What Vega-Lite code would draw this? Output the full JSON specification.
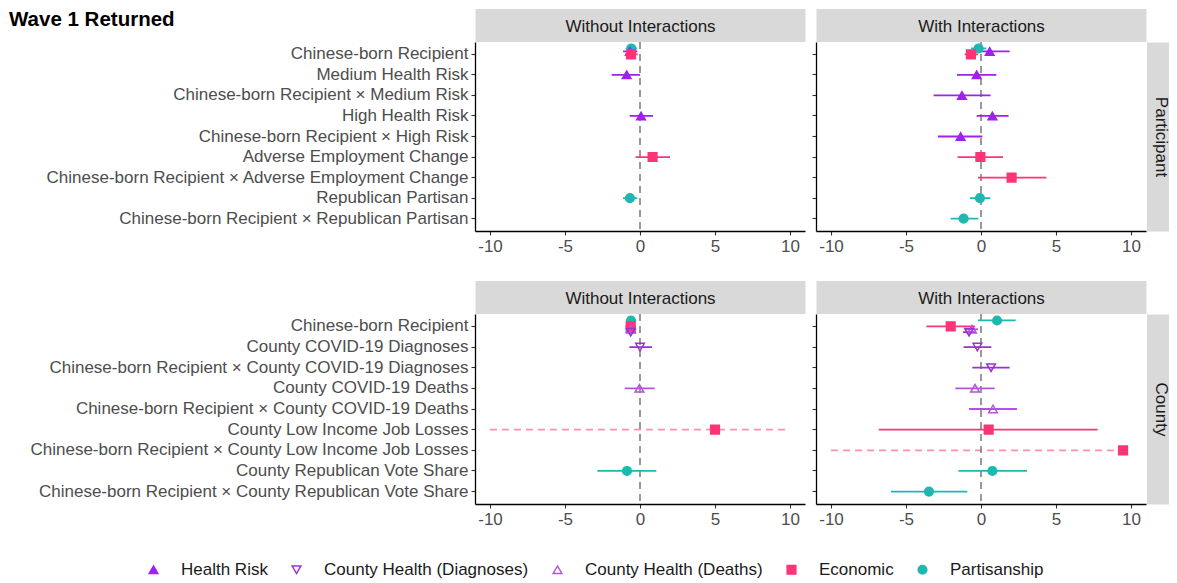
{
  "$schema": "https://vega.github.io/schema/vega-lite/v6.json",
  "padding": {"left": 9, "top": 9, "right": 0, "bottom": 0},
  "title": {"text": "Wave 1 Returned", "anchor": "start", "fontSize": 20.5, "fontWeight": "bold", "color": "#000000", "font": "Liberation Sans", "offset": -29, "baseline": "alphabetic", "dx": -21},
  "datasets": {
    "coef": [
      {"level": "Participant", "spec": "Without Interactions", "term": "Chinese-born Recipient", "model": "Partisanship", "est": -0.58, "lo": -0.95, "hi": -0.2, "ci": "within"},
      {"level": "Participant", "spec": "Without Interactions", "term": "Chinese-born Recipient", "model": "Health Risk", "est": -0.67, "lo": -1.13, "hi": -0.18, "ci": "within"},
      {"level": "Participant", "spec": "Without Interactions", "term": "Chinese-born Recipient", "model": "Economic", "est": -0.6, "lo": -0.98, "hi": -0.15, "ci": "within"},
      {"level": "Participant", "spec": "Without Interactions", "term": "Medium Health Risk", "model": "Health Risk", "est": -0.89, "lo": -1.89, "hi": 0.0, "ci": "within"},
      {"level": "Participant", "spec": "Without Interactions", "term": "High Health Risk", "model": "Health Risk", "est": 0.07, "lo": -0.69, "hi": 0.87, "ci": "within"},
      {"level": "Participant", "spec": "Without Interactions", "term": "Adverse Employment Change", "model": "Economic", "est": 0.84, "lo": -0.29, "hi": 2.0, "ci": "within"},
      {"level": "Participant", "spec": "Without Interactions", "term": "Republican Partisan", "model": "Partisanship", "est": -0.67, "lo": -1.13, "hi": -0.18, "ci": "within"},

      {"level": "Participant", "spec": "With Interactions", "term": "Chinese-born Recipient", "model": "Partisanship", "est": -0.16, "lo": -0.67, "hi": 0.36, "ci": "within"},
      {"level": "Participant", "spec": "With Interactions", "term": "Chinese-born Recipient", "model": "Health Risk", "est": 0.58, "lo": -0.5, "hi": 1.91, "ci": "within"},
      {"level": "Participant", "spec": "With Interactions", "term": "Chinese-born Recipient", "model": "Economic", "est": -0.67, "lo": -1.09, "hi": -0.2, "ci": "within"},
      {"level": "Participant", "spec": "With Interactions", "term": "Medium Health Risk", "model": "Health Risk", "est": -0.29, "lo": -1.6, "hi": 1.02, "ci": "within"},
      {"level": "Participant", "spec": "With Interactions", "term": "Chinese-born Recipient × Medium Risk", "model": "Health Risk", "est": -1.27, "lo": -3.16, "hi": 0.64, "ci": "within"},
      {"level": "Participant", "spec": "With Interactions", "term": "High Health Risk", "model": "Health Risk", "est": 0.76, "lo": -0.29, "hi": 1.84, "ci": "within"},
      {"level": "Participant", "spec": "With Interactions", "term": "Chinese-born Recipient × High Risk", "model": "Health Risk", "est": -1.36, "lo": -2.87, "hi": 0.09, "ci": "within"},
      {"level": "Participant", "spec": "With Interactions", "term": "Adverse Employment Change", "model": "Economic", "est": -0.04, "lo": -1.56, "hi": 1.47, "ci": "within"},
      {"level": "Participant", "spec": "With Interactions", "term": "Chinese-born Recipient × Adverse Employment Change", "model": "Economic", "est": 2.04, "lo": -0.2, "hi": 4.36, "ci": "within"},
      {"level": "Participant", "spec": "With Interactions", "term": "Republican Partisan", "model": "Partisanship", "est": -0.07, "lo": -0.73, "hi": 0.62, "ci": "within"},
      {"level": "Participant", "spec": "With Interactions", "term": "Chinese-born Recipient × Republican Partisan", "model": "Partisanship", "est": -1.16, "lo": -2.02, "hi": -0.18, "ci": "within"},

      {"level": "County", "spec": "Without Interactions", "term": "Chinese-born Recipient", "model": "Partisanship", "est": -0.6, "lo": -0.95, "hi": -0.25, "ci": "within"},
      {"level": "County", "spec": "Without Interactions", "term": "Chinese-born Recipient", "model": "Economic", "est": -0.62, "lo": -0.97, "hi": -0.27, "ci": "within"},
      {"level": "County", "spec": "Without Interactions", "term": "Chinese-born Recipient", "model": "County Health (Deaths)", "est": -0.6, "lo": -0.95, "hi": -0.25, "ci": "within"},
      {"level": "County", "spec": "Without Interactions", "term": "Chinese-born Recipient", "model": "County Health (Diagnoses)", "est": -0.62, "lo": -0.97, "hi": -0.27, "ci": "within"},
      {"level": "County", "spec": "Without Interactions", "term": "County COVID-19 Diagnoses", "model": "County Health (Diagnoses)", "est": 0.0, "lo": -0.71, "hi": 0.8, "ci": "within"},
      {"level": "County", "spec": "Without Interactions", "term": "County COVID-19 Deaths", "model": "County Health (Deaths)", "est": -0.04, "lo": -1.02, "hi": 0.98, "ci": "within"},
      {"level": "County", "spec": "Without Interactions", "term": "County Low Income Job Losses", "model": "Economic", "est": 5.0, "lo": -10, "hi": 10, "ci": "clipped"},
      {"level": "County", "spec": "Without Interactions", "term": "County Republican Vote Share", "model": "Partisanship", "est": -0.87, "lo": -2.84, "hi": 1.09, "ci": "within"},

      {"level": "County", "spec": "With Interactions", "term": "Chinese-born Recipient", "model": "Partisanship", "est": 1.07, "lo": -0.2, "hi": 2.31, "ci": "within"},
      {"level": "County", "spec": "With Interactions", "term": "Chinese-born Recipient", "model": "Economic", "est": -2.02, "lo": -3.64, "hi": -0.4, "ci": "within"},
      {"level": "County", "spec": "With Interactions", "term": "Chinese-born Recipient", "model": "County Health (Deaths)", "est": -0.6, "lo": -1.0, "hi": -0.2, "ci": "within"},
      {"level": "County", "spec": "With Interactions", "term": "Chinese-born Recipient", "model": "County Health (Diagnoses)", "est": -0.8, "lo": -1.2, "hi": -0.4, "ci": "within"},
      {"level": "County", "spec": "With Interactions", "term": "County COVID-19 Diagnoses", "model": "County Health (Diagnoses)", "est": -0.24, "lo": -1.16, "hi": 0.69, "ci": "within"},
      {"level": "County", "spec": "With Interactions", "term": "Chinese-born Recipient × County COVID-19 Diagnoses", "model": "County Health (Diagnoses)", "est": 0.67, "lo": -0.58, "hi": 1.91, "ci": "within"},
      {"level": "County", "spec": "With Interactions", "term": "County COVID-19 Deaths", "model": "County Health (Deaths)", "est": -0.4, "lo": -1.71, "hi": 0.91, "ci": "within"},
      {"level": "County", "spec": "With Interactions", "term": "Chinese-born Recipient × County COVID-19 Deaths", "model": "County Health (Deaths)", "est": 0.8, "lo": -0.8, "hi": 2.4, "ci": "within"},
      {"level": "County", "spec": "With Interactions", "term": "County Low Income Job Losses", "model": "Economic", "est": 0.51, "lo": -6.82, "hi": 7.78, "ci": "within"},
      {"level": "County", "spec": "With Interactions", "term": "Chinese-born Recipient × County Low Income Job Losses", "model": "Economic", "est": 9.47, "lo": -10, "hi": 10, "ci": "clipped"},
      {"level": "County", "spec": "With Interactions", "term": "County Republican Vote Share", "model": "Partisanship", "est": 0.76, "lo": -1.51, "hi": 3.07, "ci": "within"},
      {"level": "County", "spec": "With Interactions", "term": "Chinese-born Recipient × County Republican Vote Share", "model": "Partisanship", "est": -3.47, "lo": -6.0, "hi": -0.91, "ci": "within"}
    ]
  },
  "spacing": 35,
  "vconcat": [
    {
      "spacing": 6,
      "hconcat": [
        {
          "width": 330, "height": 189,
          "data": {"name": "coef"},
          "transform": [{"filter": "datum.level === 'Participant' && datum.spec === 'Without Interactions'"}],
          "resolve": {"axis": {"x": "independent", "y": "independent"}},
          "layer": [
            {
              "transform": [{"aggregate": [{"op": "count", "as": "n"}]}],
              "mark": {"type": "rule", "strokeDash": [7, 5], "color": "#808080", "strokeWidth": 1.6},
              "encoding": {"x": {"datum": 0, "type": "quantitative", "scale": {"domain": [-11, 11], "nice": false, "zero": false},
                "axis": {"orient": "top", "title": "Without Interactions", "labels": false, "ticks": false, "grid": false, "domainColor": "#D9D9D9", "domainWidth": 33, "offset": 17, "titleX": 165, "titleY": 6, "titleAlign": "center", "titleBaseline": "alphabetic", "titleFontSize": 17, "titleFontWeight": "normal", "titleColor": "#1A1A1A"}}}
            },
            {
              "transform": [{"filter": "datum.term !== 'Chinese-born Recipient'"}],
              "mark": {"type": "rule", "strokeWidth": 1.8},
              "encoding": {
                "y": {"field": "term", "type": "nominal", "scale": {"domain": ["Chinese-born Recipient", "Medium Health Risk", "Chinese-born Recipient × Medium Risk", "High Health Risk", "Chinese-born Recipient × High Risk", "Adverse Employment Change", "Chinese-born Recipient × Adverse Employment Change", "Republican Partisan", "Chinese-born Recipient × Republican Partisan"], "paddingInner": 0, "paddingOuter": 0.1},
                  "axis": {"orient": "left", "title": null, "labelLimit": 800}},
                "x": {"field": "lo", "type": "quantitative", "scale": {"domain": [-11, 11], "nice": false, "zero": false},
                  "axis": {"orient": "bottom", "title": null, "values": [-10, -5, 0, 5, 10], "labelExpr": "'' + datum.value"}},
                "x2": {"field": "hi"},
                "color": {"field": "model", "type": "nominal", "legend": null, "scale": {"domain": ["Partisanship", "Economic", "County Health (Deaths)", "County Health (Diagnoses)", "Health Risk"], "range": ["#1FB8B0", "#FF3377", "#B452E0", "#9A32CD", "#A020F0"]}},
                "strokeDash": {"field": "ci", "type": "nominal", "legend": null, "scale": {"domain": ["within", "clipped"], "range": [[1, 0], [7, 5]]}},
                "strokeOpacity": {"field": "ci", "type": "ordinal", "legend": null, "scale": {"domain": ["within", "clipped"], "range": [1, 0.55]}}
              }
            },
            {
              "transform": [{"filter": "datum.term !== 'Chinese-born Recipient'"}],
              "mark": {"type": "point", "filled": true, "size": 75, "strokeWidth": 1.5, "opacity": 1},
              "encoding": {
                "y": {"field": "term", "type": "nominal", "axis": null},
                "x": {"field": "est", "type": "quantitative", "axis": null},
                "stroke": {"field": "model", "type": "nominal", "legend": {"title": null, "orient": "none", "legendX": -330, "legendY": 519, "direction": "horizontal"}, "scale": {"domain": ["Health Risk", "County Health (Diagnoses)", "County Health (Deaths)", "Economic", "Partisanship"], "range": ["#A020F0", "#9A32CD", "#B452E0", "#FF3377", "#1FB8B0"]}},
                "fill": {"field": "model", "type": "nominal", "legend": {"title": null, "orient": "none", "legendX": -330, "legendY": 519, "direction": "horizontal"}, "scale": {"domain": ["Health Risk", "County Health (Diagnoses)", "County Health (Deaths)", "Economic", "Partisanship"], "range": ["#A020F0", "transparent", "transparent", "#FF3377", "#1FB8B0"]}},
                "shape": {"field": "model", "type": "nominal", "legend": {"title": null, "orient": "none", "legendX": -330, "legendY": 519, "direction": "horizontal"}, "scale": {"domain": ["Health Risk", "County Health (Diagnoses)", "County Health (Deaths)", "Economic", "Partisanship"], "range": ["triangle-up", "triangle-down", "triangle-up", "square", "circle"]}}
              }
            },
            {
              "transform": [{"filter": "datum.term === 'Chinese-born Recipient'"}],
              "mark": {"type": "rule", "strokeWidth": 1.8},
              "encoding": {
                "y": {"field": "term", "type": "nominal", "axis": null},
                "yOffset": {"field": "model", "type": "nominal", "scale": {"domain": ["Partisanship", "Health Risk", "Economic"], "paddingInner": 0, "paddingOuter": 1.7}},
                "x": {"field": "lo", "type": "quantitative", "axis": null},
                "x2": {"field": "hi"},
                "color": {"field": "model", "type": "nominal", "legend": null}
              }
            },
            {
              "transform": [{"filter": "datum.term === 'Chinese-born Recipient'"}],
              "mark": {"type": "point", "filled": true, "size": 75, "strokeWidth": 1.5, "opacity": 1},
              "encoding": {
                "y": {"field": "term", "type": "nominal", "axis": null},
                "yOffset": {"field": "model", "type": "nominal"},
                "x": {"field": "est", "type": "quantitative", "axis": null},
                "stroke": {"field": "model", "type": "nominal", "title": null},
                "fill": {"field": "model", "type": "nominal", "title": null},
                "shape": {"field": "model", "type": "nominal", "title": null}
              }
            }
          ]
        },
        {
          "width": 330, "height": 189,
          "data": {"name": "coef"},
          "transform": [{"filter": "datum.level === 'Participant' && datum.spec === 'With Interactions'"}],
          "resolve": {"axis": {"x": "independent", "y": "independent"}},
          "layer": [
            {
              "transform": [{"aggregate": [{"op": "count", "as": "n"}]}],
              "mark": {"type": "rule", "strokeDash": [7, 5], "color": "#808080", "strokeWidth": 1.6},
              "encoding": {"x": {"datum": 0, "type": "quantitative", "scale": {"domain": [-11, 11], "nice": false, "zero": false},
                "axis": {"orient": "top", "title": "With Interactions", "labels": false, "ticks": false, "grid": false, "domainColor": "#D9D9D9", "domainWidth": 33, "offset": 17, "titleX": 165, "titleY": 6, "titleAlign": "center", "titleBaseline": "alphabetic", "titleFontSize": 17, "titleFontWeight": "normal", "titleColor": "#1A1A1A"}}}
            },
            {
              "transform": [{"filter": "datum.term !== 'Chinese-born Recipient'"}],
              "mark": {"type": "rule", "strokeWidth": 1.8},
              "encoding": {
                "y": {"field": "term", "type": "nominal", "scale": {"domain": ["Chinese-born Recipient", "Medium Health Risk", "Chinese-born Recipient × Medium Risk", "High Health Risk", "Chinese-born Recipient × High Risk", "Adverse Employment Change", "Chinese-born Recipient × Adverse Employment Change", "Republican Partisan", "Chinese-born Recipient × Republican Partisan"], "paddingInner": 0, "paddingOuter": 0.1},
                  "axis": {"orient": "left", "title": null, "labels": false}},
                "x": {"field": "lo", "type": "quantitative", "scale": {"domain": [-11, 11], "nice": false, "zero": false},
                  "axis": {"orient": "bottom", "title": null, "values": [-10, -5, 0, 5, 10], "labelExpr": "'' + datum.value"}},
                "x2": {"field": "hi"},
                "color": {"field": "model", "type": "nominal", "legend": null},
                "strokeDash": {"field": "ci", "type": "nominal", "legend": null, "scale": {"domain": ["within", "clipped"], "range": [[1, 0], [7, 5]]}},
                "strokeOpacity": {"field": "ci", "type": "ordinal", "legend": null, "scale": {"domain": ["within", "clipped"], "range": [1, 0.55]}}
              }
            },
            {
              "transform": [{"filter": "datum.term !== 'Chinese-born Recipient'"}],
              "mark": {"type": "point", "filled": true, "size": 75, "strokeWidth": 1.5, "opacity": 1},
              "encoding": {
                "y": {"field": "term", "type": "nominal", "axis": null},
                "x": {"field": "est", "type": "quantitative", "axis": null},
                "stroke": {"field": "model", "type": "nominal", "title": null},
                "fill": {"field": "model", "type": "nominal", "title": null},
                "shape": {"field": "model", "type": "nominal", "title": null}
              }
            },
            {
              "transform": [{"filter": "datum.term === 'Chinese-born Recipient'"}],
              "mark": {"type": "rule", "strokeWidth": 1.8},
              "encoding": {
                "y": {"field": "term", "type": "nominal", "axis": null},
                "yOffset": {"field": "model", "type": "nominal", "scale": {"domain": ["Partisanship", "Health Risk", "Economic"], "paddingInner": 0, "paddingOuter": 1.7}},
                "x": {"field": "lo", "type": "quantitative", "axis": null},
                "x2": {"field": "hi"},
                "color": {"field": "model", "type": "nominal", "legend": null}
              }
            },
            {
              "transform": [{"filter": "datum.term === 'Chinese-born Recipient'"}],
              "mark": {"type": "point", "filled": true, "size": 75, "strokeWidth": 1.5, "opacity": 1},
              "encoding": {
                "y": {"field": "term", "type": "nominal",
                  "axis": {"orient": "right", "title": "Participant", "labels": false, "ticks": false, "grid": false, "domainColor": "#D9D9D9", "domainWidth": 29, "offset": 15, "titleAngle": 90, "titleX": -6, "titleY": 94.5, "titleAlign": "center", "titleBaseline": "alphabetic", "titleFontSize": 17, "titleFontWeight": "normal", "titleColor": "#1A1A1A"}},
                "yOffset": {"field": "model", "type": "nominal"},
                "x": {"field": "est", "type": "quantitative", "axis": null},
                "stroke": {"field": "model", "type": "nominal", "title": null},
                "fill": {"field": "model", "type": "nominal", "title": null},
                "shape": {"field": "model", "type": "nominal", "title": null}
              }
            }
          ]
        }
      ]
    },
    {
      "spacing": 6,
      "hconcat": [
        {
          "width": 330, "height": 190,
          "data": {"name": "coef"},
          "transform": [{"filter": "datum.level === 'County' && datum.spec === 'Without Interactions'"}],
          "resolve": {"axis": {"x": "independent", "y": "independent"}},
          "layer": [
            {
              "transform": [{"aggregate": [{"op": "count", "as": "n"}]}],
              "mark": {"type": "rule", "strokeDash": [7, 5], "color": "#808080", "strokeWidth": 1.6},
              "encoding": {"x": {"datum": 0, "type": "quantitative", "scale": {"domain": [-11, 11], "nice": false, "zero": false},
                "axis": {"orient": "top", "title": "Without Interactions", "labels": false, "ticks": false, "grid": false, "domainColor": "#D9D9D9", "domainWidth": 33, "offset": 17, "titleX": 165, "titleY": 6, "titleAlign": "center", "titleBaseline": "alphabetic", "titleFontSize": 17, "titleFontWeight": "normal", "titleColor": "#1A1A1A"}}}
            },
            {
              "transform": [{"filter": "datum.term !== 'Chinese-born Recipient'"}],
              "mark": {"type": "rule", "strokeWidth": 1.8},
              "encoding": {
                "y": {"field": "term", "type": "nominal", "scale": {"domain": ["Chinese-born Recipient", "County COVID-19 Diagnoses", "Chinese-born Recipient × County COVID-19 Diagnoses", "County COVID-19 Deaths", "Chinese-born Recipient × County COVID-19 Deaths", "County Low Income Job Losses", "Chinese-born Recipient × County Low Income Job Losses", "County Republican Vote Share", "Chinese-born Recipient × County Republican Vote Share"], "paddingInner": 0, "paddingOuter": 0.1},
                  "axis": {"orient": "left", "title": null, "labelLimit": 800}},
                "x": {"field": "lo", "type": "quantitative", "scale": {"domain": [-11, 11], "nice": false, "zero": false},
                  "axis": {"orient": "bottom", "title": null, "values": [-10, -5, 0, 5, 10], "labelExpr": "'' + datum.value"}},
                "x2": {"field": "hi"},
                "color": {"field": "model", "type": "nominal", "legend": null},
                "strokeDash": {"field": "ci", "type": "nominal", "legend": null, "scale": {"domain": ["within", "clipped"], "range": [[1, 0], [7, 5]]}},
                "strokeOpacity": {"field": "ci", "type": "ordinal", "legend": null, "scale": {"domain": ["within", "clipped"], "range": [1, 0.55]}}
              }
            },
            {
              "transform": [{"filter": "datum.term !== 'Chinese-born Recipient'"}],
              "mark": {"type": "point", "filled": true, "size": 75, "strokeWidth": 1.5, "opacity": 1},
              "encoding": {
                "y": {"field": "term", "type": "nominal", "axis": null},
                "x": {"field": "est", "type": "quantitative", "axis": null},
                "stroke": {"field": "model", "type": "nominal", "title": null},
                "fill": {"field": "model", "type": "nominal", "title": null},
                "shape": {"field": "model", "type": "nominal", "title": null}
              }
            },
            {
              "transform": [{"filter": "datum.term === 'Chinese-born Recipient'"}],
              "mark": {"type": "rule", "strokeWidth": 1.8},
              "encoding": {
                "y": {"field": "term", "type": "nominal", "axis": null},
                "yOffset": {"field": "model", "type": "nominal", "scale": {"domain": ["Partisanship", "Economic", "County Health (Deaths)", "County Health (Diagnoses)"], "paddingInner": 0, "paddingOuter": 3.1}},
                "x": {"field": "lo", "type": "quantitative", "axis": null},
                "x2": {"field": "hi"},
                "color": {"field": "model", "type": "nominal", "legend": null}
              }
            },
            {
              "transform": [{"filter": "datum.term === 'Chinese-born Recipient'"}],
              "mark": {"type": "point", "filled": true, "size": 75, "strokeWidth": 1.5, "opacity": 1},
              "encoding": {
                "y": {"field": "term", "type": "nominal", "axis": null},
                "yOffset": {"field": "model", "type": "nominal"},
                "x": {"field": "est", "type": "quantitative", "axis": null},
                "stroke": {"field": "model", "type": "nominal", "title": null},
                "fill": {"field": "model", "type": "nominal", "title": null},
                "shape": {"field": "model", "type": "nominal", "title": null}
              }
            }
          ]
        },
        {
          "width": 330, "height": 190,
          "data": {"name": "coef"},
          "transform": [{"filter": "datum.level === 'County' && datum.spec === 'With Interactions'"}],
          "resolve": {"axis": {"x": "independent", "y": "independent"}},
          "layer": [
            {
              "transform": [{"aggregate": [{"op": "count", "as": "n"}]}],
              "mark": {"type": "rule", "strokeDash": [7, 5], "color": "#808080", "strokeWidth": 1.6},
              "encoding": {"x": {"datum": 0, "type": "quantitative", "scale": {"domain": [-11, 11], "nice": false, "zero": false},
                "axis": {"orient": "top", "title": "With Interactions", "labels": false, "ticks": false, "grid": false, "domainColor": "#D9D9D9", "domainWidth": 33, "offset": 17, "titleX": 165, "titleY": 6, "titleAlign": "center", "titleBaseline": "alphabetic", "titleFontSize": 17, "titleFontWeight": "normal", "titleColor": "#1A1A1A"}}}
            },
            {
              "transform": [{"filter": "datum.term !== 'Chinese-born Recipient'"}],
              "mark": {"type": "rule", "strokeWidth": 1.8},
              "encoding": {
                "y": {"field": "term", "type": "nominal", "scale": {"domain": ["Chinese-born Recipient", "County COVID-19 Diagnoses", "Chinese-born Recipient × County COVID-19 Diagnoses", "County COVID-19 Deaths", "Chinese-born Recipient × County COVID-19 Deaths", "County Low Income Job Losses", "Chinese-born Recipient × County Low Income Job Losses", "County Republican Vote Share", "Chinese-born Recipient × County Republican Vote Share"], "paddingInner": 0, "paddingOuter": 0.1},
                  "axis": {"orient": "left", "title": null, "labels": false}},
                "x": {"field": "lo", "type": "quantitative", "scale": {"domain": [-11, 11], "nice": false, "zero": false},
                  "axis": {"orient": "bottom", "title": null, "values": [-10, -5, 0, 5, 10], "labelExpr": "'' + datum.value"}},
                "x2": {"field": "hi"},
                "color": {"field": "model", "type": "nominal", "legend": null},
                "strokeDash": {"field": "ci", "type": "nominal", "legend": null, "scale": {"domain": ["within", "clipped"], "range": [[1, 0], [7, 5]]}},
                "strokeOpacity": {"field": "ci", "type": "ordinal", "legend": null, "scale": {"domain": ["within", "clipped"], "range": [1, 0.55]}}
              }
            },
            {
              "transform": [{"filter": "datum.term !== 'Chinese-born Recipient'"}],
              "mark": {"type": "point", "filled": true, "size": 75, "strokeWidth": 1.5, "opacity": 1},
              "encoding": {
                "y": {"field": "term", "type": "nominal", "axis": null},
                "x": {"field": "est", "type": "quantitative", "axis": null},
                "stroke": {"field": "model", "type": "nominal", "title": null},
                "fill": {"field": "model", "type": "nominal", "title": null},
                "shape": {"field": "model", "type": "nominal", "title": null}
              }
            },
            {
              "transform": [{"filter": "datum.term === 'Chinese-born Recipient'"}],
              "mark": {"type": "rule", "strokeWidth": 1.8},
              "encoding": {
                "y": {"field": "term", "type": "nominal", "axis": null},
                "yOffset": {"field": "model", "type": "nominal", "scale": {"domain": ["Partisanship", "Economic", "County Health (Deaths)", "County Health (Diagnoses)"], "paddingInner": 0, "paddingOuter": 3.1}},
                "x": {"field": "lo", "type": "quantitative", "axis": null},
                "x2": {"field": "hi"},
                "color": {"field": "model", "type": "nominal", "legend": null}
              }
            },
            {
              "transform": [{"filter": "datum.term === 'Chinese-born Recipient'"}],
              "mark": {"type": "point", "filled": true, "size": 75, "strokeWidth": 1.5, "opacity": 1},
              "encoding": {
                "y": {"field": "term", "type": "nominal",
                  "axis": {"orient": "right", "title": "County", "labels": false, "ticks": false, "grid": false, "domainColor": "#D9D9D9", "domainWidth": 29, "offset": 15, "titleAngle": 90, "titleX": -6, "titleY": 95, "titleAlign": "center", "titleBaseline": "alphabetic", "titleFontSize": 17, "titleFontWeight": "normal", "titleColor": "#1A1A1A"}},
                "yOffset": {"field": "model", "type": "nominal"},
                "x": {"field": "est", "type": "quantitative", "axis": null},
                "stroke": {"field": "model", "type": "nominal", "title": null},
                "fill": {"field": "model", "type": "nominal", "title": null},
                "shape": {"field": "model", "type": "nominal", "title": null}
              }
            }
          ]
        }
      ]
    }
  ],
  "config": {
    "font": "Liberation Sans",
    "view": {"stroke": null},
    "axis": {
      "grid": false,
      "labelFont": "Liberation Sans",
      "labelFontSize": 17,
      "labelColor": "#4D4D4D",
      "labelPadding": 3,
      "tickSize": 4,
      "tickColor": "#333333",
      "tickWidth": 1.1,
      "domainColor": "#000000",
      "domainWidth": 1.3
    },
    "legend": {
      "padding": 0,
      "labelFont": "Liberation Sans",
      "labelFontSize": 17,
      "labelColor": "#1A1A1A",
      "labelLimit": 500,
      "labelOffset": 19,
      "columnPadding": 20,
      "symbolSize": 75,
      "symbolStrokeWidth": 1.5
    }
  }
}
